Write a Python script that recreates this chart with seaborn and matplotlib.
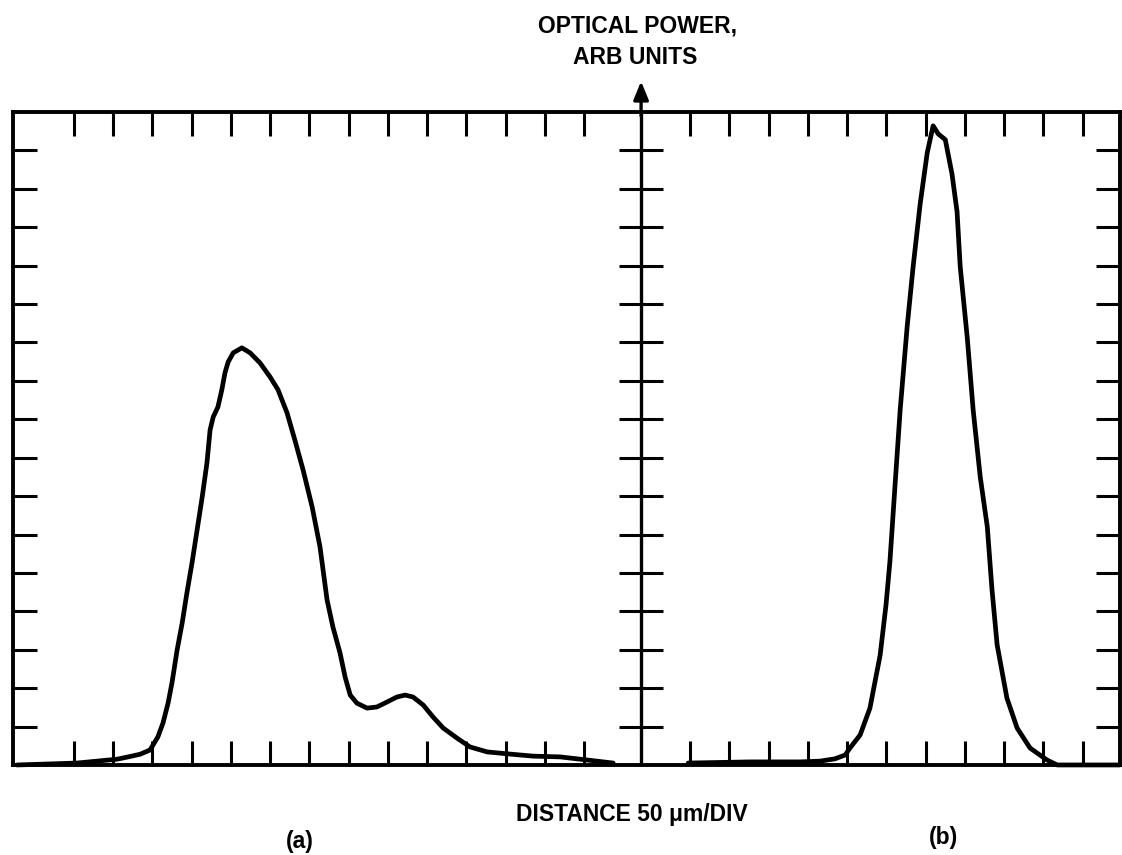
import numpy as np
import pandas as pd
import matplotlib
matplotlib.use("Agg")
import matplotlib.pyplot as plt
import seaborn as sns

# trace (a): distance and power in graticule divisions
dist_a = [0.10, 1.63, 2.65, 2.98, 3.24, 3.49, 3.69, 3.82, 3.95, 4.05, 4.18, 4.31,
          4.43, 4.56, 4.69, 4.82, 4.94, 5.02, 5.10, 5.22, 5.32, 5.40, 5.48, 5.61,
          5.83, 6.04, 6.29, 6.55, 6.75, 6.98, 7.18, 7.39, 7.62, 7.82, 8.00, 8.15,
          8.33, 8.46, 8.59, 8.76, 9.02, 9.27, 9.53, 9.78, 9.99, 10.19, 10.45, 10.70,
          10.96, 11.31, 11.64, 12.08, 12.59, 13.25, 13.94, 14.62, 15.29]
power_a = [0.00, 0.05, 0.15, 0.22, 0.28, 0.39, 0.73, 1.09, 1.61, 2.14, 2.99, 3.70,
           4.48, 5.26, 6.12, 6.98, 7.86, 8.72, 9.06, 9.32, 9.77, 10.21, 10.49, 10.73,
           10.86, 10.73, 10.47, 10.10, 9.77, 9.17, 8.46, 7.68, 6.72, 5.68, 4.30, 3.59,
           2.92, 2.29, 1.82, 1.61, 1.48, 1.51, 1.64, 1.77, 1.82, 1.77, 1.56, 1.25,
           0.96, 0.70, 0.47, 0.34, 0.29, 0.23, 0.21, 0.13, 0.05]

# trace (b)
dist_b = [17.20, 18.78, 20.05, 20.56, 20.94, 21.20, 21.32, 21.58, 21.83, 22.09, 22.24,
          22.34, 22.47, 22.60, 22.78, 22.93, 23.11, 23.29, 23.44, 23.57, 23.75, 23.92,
          24.05, 24.13, 24.31, 24.46, 24.64, 24.82, 24.94, 25.07, 25.32, 25.58, 25.91,
          26.34, 26.60, 27.44, 28.20]
power_b = [0.05, 0.08, 0.08, 0.10, 0.16, 0.26, 0.44, 0.78, 1.48, 2.86, 4.17,
           5.31, 7.29, 9.24, 11.43, 12.97, 14.61, 15.94, 16.64, 16.43, 16.28, 15.39,
           14.40, 12.97, 11.12, 9.24, 7.50, 6.20, 4.56, 3.13, 1.74, 0.96, 0.44,
           0.13, 0.00, 0.00, 0.00]

# graticule
x_ticks_a = [1.55 + k for k in range(14)]
x_ticks_b = [17.25 + k for k in range(11)]
y_ticks = list(range(1, 17))
center_x = 16.0
x_max, y_max = 28.2, 17.0

sns.set_style("white")
plt.rcParams['font.family'] = ['Liberation Sans', 'DejaVu Sans']

fig = plt.figure(figsize=(11.22, 8.55), dpi=100)
ax = fig.add_axes([0.0116, 0.1053, 0.9866, 0.7637])

df_a = pd.DataFrame({'x': dist_a, 'y': power_a})
df_b = pd.DataFrame({'x': dist_b, 'y': power_b})
for df in (df_a, df_b):
    sns.lineplot(data=df, x='x', y='y', sort=False, estimator=None, color='black',
                 lw=3.4, ax=ax, clip_on=False, solid_joinstyle='round',
                 solid_capstyle='round')

ax.set_xlim(0, x_max)
ax.set_ylim(0, y_max)
ax.set_xlabel('')
ax.set_ylabel('')

for s in ax.spines.values():
    s.set_linewidth(2.8)
    s.set_color('black')

ax.set_xticks(x_ticks_a + x_ticks_b)
ax.set_yticks(y_ticks)
ax.tick_params(axis='both', direction='in', length=17, width=2.2, color='black',
               top=True, bottom=True, left=True, right=True,
               labelbottom=False, labelleft=False, labeltop=False, labelright=False)

# central power axis with crossing ticks and arrow
ax.axvline(center_x, color='black', lw=2.4)
ax.hlines(y_ticks, center_x - 0.57, center_x + 0.57, color='black', lw=2.2)
ax.annotate('', xy=(center_x, 17.8), xytext=(center_x, 16.9),
            arrowprops=dict(arrowstyle='-|>,head_length=1.1,head_width=0.45',
                            color='black', lw=2.4, shrinkA=0, shrinkB=0),
            annotation_clip=False)

txt = dict(ha='center', va='center', fontsize=16.5, fontweight='bold', color='black')
fig.text(0.568, 0.970, 'OPTICAL POWER,', **txt)
fig.text(0.566, 0.933, 'ARB UNITS', **txt)
fig.text(0.563, 0.047, 'DISTANCE 50 \u03bcm/DIV', **txt)
fig.text(0.267, 0.016, '(a)', **txt)
fig.text(0.841, 0.021, '(b)', **txt)

fig.savefig('out.png', dpi=100)
